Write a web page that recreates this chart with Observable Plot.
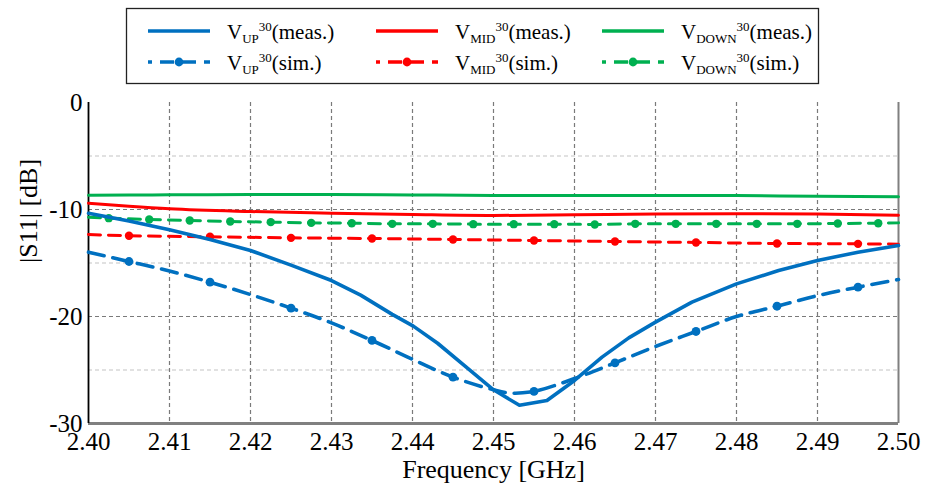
<!DOCTYPE html>
<html><head><meta charset="utf-8">
<script src="https://cdn.jsdelivr.net/npm/d3@7"></script>
<script src="https://cdn.jsdelivr.net/npm/@observablehq/plot@0.6"></script>
<style>
body{margin:0;background:#fff;}
#wrap{position:relative;width:926px;height:491px;}
#wrap svg{position:absolute;left:0;top:0;}
#wrap svg, #wrap svg text, #wrap svg tspan{font-family:"Times New Roman", "Liberation Serif", "DejaVu Serif", serif !important;}
</style></head>
<body><div id="wrap"></div>
<script>
// ---- data ----
const xTicks = [2.40, 2.41, 2.42, 2.43, 2.44, 2.45, 2.46, 2.47, 2.48, 2.49, 2.50];
const yTicks = [0, -10, -20, -30];

// V_UP measured
const upMeasF = [2.400, 2.405, 2.410, 2.415, 2.420, 2.425, 2.430, 2.4336, 2.4375, 2.4401, 2.4431, 2.4466, 2.4500, 2.4532, 2.4566, 2.4600, 2.4634, 2.4667, 2.4700, 2.4745, 2.4800, 2.4852, 2.4900, 2.4950, 2.5000];
const upMeas  = [-10.35, -11.08, -11.9, -12.8, -13.83, -15.2, -16.64, -18.0, -19.8, -20.9, -22.5, -24.7, -26.85, -28.3, -27.85, -25.98, -23.8, -22.0, -20.53, -18.66, -16.95, -15.7, -14.77, -13.99, -13.36];

// V_MID / V_DOWN measured
const measF   = [2.400, 2.405, 2.410, 2.420, 2.430, 2.440, 2.450, 2.460, 2.470, 2.480, 2.490, 2.500];
const midMeas = [-9.41, -9.7, -9.94, -10.19, -10.34, -10.47, -10.56, -10.5, -10.42, -10.4, -10.42, -10.53];
const downMeas= [-8.66, -8.64, -8.63, -8.6, -8.59, -8.64, -8.68, -8.68, -8.68, -8.7, -8.77, -8.8];

// V_UP simulated (markers at 2.405 + 0.01k)
const upSimF = [2.400, 2.405, 2.410, 2.415, 2.420, 2.425, 2.430, 2.435, 2.440, 2.445, 2.450, 2.452, 2.455, 2.460, 2.465, 2.470, 2.475, 2.480, 2.485, 2.490, 2.495, 2.500];
const upSim  = [-13.99, -14.86, -15.75, -16.79, -17.95, -19.22, -20.6, -22.24, -24.0, -25.67, -26.85, -27.15, -27.0, -25.8, -24.33, -22.8, -21.4, -20.0, -19.04, -18.05, -17.26, -16.54];
const upSimMarkF = [2.405, 2.415, 2.425, 2.435, 2.445, 2.455, 2.465, 2.475, 2.485, 2.495];

// V_MID simulated
const midSimF = [2.400, 2.405, 2.415, 2.425, 2.435, 2.445, 2.455, 2.465, 2.475, 2.485, 2.495, 2.500];
const midSim  = [-12.34, -12.46, -12.55, -12.65, -12.71, -12.8, -12.9, -12.99, -13.08, -13.18, -13.21, -13.24];

// V_DOWN simulated
const downSimF = [2.400, 2.4025, 2.4075, 2.4125, 2.4175, 2.4225, 2.4275, 2.4325, 2.4375, 2.4425, 2.4475, 2.4525, 2.4575, 2.4625, 2.4675, 2.4725, 2.4775, 2.4825, 2.4875, 2.4925, 2.4975, 2.500];
const downSim  = [-10.72, -10.81, -10.93, -11.03, -11.12, -11.18, -11.25, -11.28, -11.34, -11.34, -11.37, -11.37, -11.37, -11.4, -11.34, -11.34, -11.34, -11.34, -11.34, -11.31, -11.28, -11.25];

const cBlue = "#0070C0", cRed = "#FF0000", cGreen = "#00B050";

// ---- tables ----
const tbl = (fs, vs) => fs.map((f, i) => ({f, v: vs[i]}));
const tUpMeas = tbl(upMeasF, upMeas);
const tMidMeas = tbl(measF, midMeas);
const tDownMeas = tbl(measF, downMeas);
const tUpSim = tbl(upSimF, upSim);
const tMidSim = tbl(midSimF, midSim);
const tDownSim = tbl(downSimF, downSim);
const inner = t => t.slice(1, -1);
const tUpMark = tUpSim.filter(d => upSimMarkF.some(m => Math.abs(m - d.f) < 1e-6));

const font = "Times New Roman, Liberation Serif, DejaVu Serif, serif";

const chart = Plot.plot({
  width: 926, height: 491,
  marginLeft: 88, marginRight: 28, marginTop: 102, marginBottom: 68,
  style: {fontFamily: font, fontSize: "25px", background: "transparent", color: "#000"},
  x: {domain: [2.40, 2.50]},
  y: {domain: [-30, 0]},
  marks: [
    Plot.gridY([-5, -15, -25], {stroke: "#c4c4c4", strokeOpacity: 1, strokeDasharray: "4,3", strokeWidth: 1.2}),
    Plot.gridY([-10, -20], {stroke: "#7a7a7a", strokeOpacity: 1, strokeDasharray: "4,3", strokeWidth: 1.2}),
    Plot.gridX(xTicks.slice(1, -1), {stroke: "#7a7a7a", strokeOpacity: 1, strokeDasharray: "4,3", strokeWidth: 1.2}),
    Plot.axisX({ticks: xTicks, tickSize: 0, tickPadding: 9, tickFormat: d => d.toFixed(2), label: null, fontSize: 25}),
    Plot.axisY({ticks: yTicks, tickSize: 0, tickPadding: 6, tickFormat: d => String(d), label: null, fontSize: 25}),
    Plot.ruleX([2.50], {stroke: "#808080", strokeWidth: 2}),
    Plot.ruleY([-30], {stroke: "#808080", strokeWidth: 3}),
    Plot.ruleX([2.40], {stroke: "#000", strokeWidth: 1.8}),
    // simulated (dashed + markers)
    Plot.line(tDownSim, {x: "f", y: "v", stroke: cGreen, strokeWidth: 3, strokeDasharray: "12,8"}),
    Plot.dot(inner(tDownSim), {x: "f", y: "v", fill: cGreen, r: 4.2}),
    Plot.line(tMidSim, {x: "f", y: "v", stroke: cRed, strokeWidth: 3, strokeDasharray: "12,8"}),
    Plot.dot(inner(tMidSim), {x: "f", y: "v", fill: cRed, r: 4.2}),
    Plot.line(tUpSim, {x: "f", y: "v", stroke: cBlue, strokeWidth: 3.6, strokeDasharray: "16,9", curve: "catmull-rom"}),
    Plot.dot(tUpMark, {x: "f", y: "v", fill: cBlue, r: 4.4}),
    // measured (solid)
    Plot.line(tDownMeas, {x: "f", y: "v", stroke: cGreen, strokeWidth: 3, curve: "monotone-x"}),
    Plot.line(tMidMeas, {x: "f", y: "v", stroke: cRed, strokeWidth: 3, curve: "monotone-x"}),
    Plot.line(tUpMeas, {x: "f", y: "v", stroke: cBlue, strokeWidth: 3.6}),
    // titles
    Plot.text(["Frequency [GHz]"], {text: d => d, frameAnchor: "bottom", dy: 54, fontSize: 26}),
    Plot.text(["|S11| [dB]"], {text: d => d, frameAnchor: "left", dx: -60, rotate: -90, fontSize: 26})
  ]
});
document.getElementById("wrap").appendChild(chart);

// ---- legend ----
const legendItems = [
  {col: 0, row: 0, sub: "UP", color: cBlue, sim: false, tag: "(meas.)"},
  {col: 1, row: 0, sub: "MID", color: cRed, sim: false, tag: "(meas.)"},
  {col: 2, row: 0, sub: "DOWN", color: cGreen, sim: false, tag: "(meas.)"},
  {col: 0, row: 1, sub: "UP", color: cBlue, sim: true, tag: "(sim.)"},
  {col: 1, row: 1, sub: "MID", color: cRed, sim: true, tag: "(sim.)"},
  {col: 2, row: 1, sub: "DOWN", color: cGreen, sim: true, tag: "(sim.)"}
];
const colX = [148, 376, 602];
const rowY = [31, 62];
const lsvg = d3.create("svg").attr("width", 926).attr("height", 95);
lsvg.append("rect").attr("x", 126.5).attr("y", 8.5).attr("width", 692).attr("height", 75)
  .attr("fill", "#fff").attr("stroke", "#222").attr("stroke-width", 1.3);
for (const it of legendItems) {
  const x0 = colX[it.col], y = rowY[it.row];
  const g = lsvg.append("g");
  if (it.sim) {
    g.append("line").attr("x1", x0).attr("x2", x0 + 62).attr("y1", y).attr("y2", y)
      .attr("stroke", it.color).attr("stroke-width", 3.5)
      .attr("stroke-dasharray", "14,8").attr("stroke-dashoffset", 10);
    g.append("circle").attr("cx", x0 + 31).attr("cy", y).attr("r", 4.4).attr("fill", it.color);
  } else {
    g.append("line").attr("x1", x0).attr("x2", x0 + 62).attr("y1", y).attr("y2", y)
      .attr("stroke", it.color).attr("stroke-width", 3.5);
  }
  const t = g.append("text").attr("x", x0 + 79).attr("y", y + 8).attr("font-size", 21).attr("fill", "#000");
  t.append("tspan").text("V");
  t.append("tspan").attr("font-size", 13).attr("dy", 4).text(it.sub);
  t.append("tspan").attr("font-size", 13).attr("dy", -12).text("30");
  t.append("tspan").attr("dy", 8).text(it.tag);
}
document.getElementById("wrap").appendChild(lsvg.node());
</script>
</body></html>
